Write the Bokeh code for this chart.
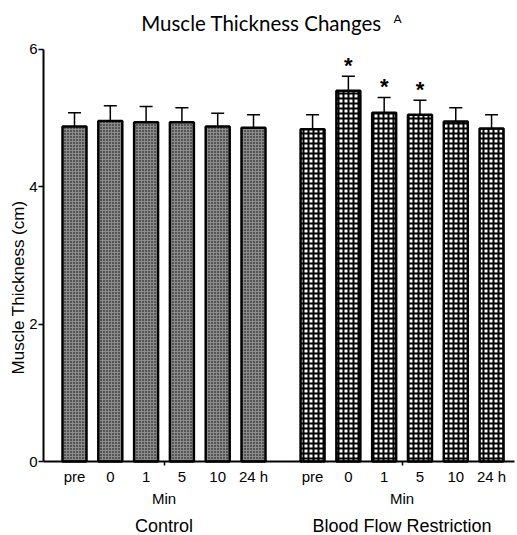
import math
from bokeh.plotting import figure
from bokeh.models import Range1d, FixedTicker, ColumnDataSource, Whisker, TeeHead
from bokeh.core.properties import value
from bokeh.embed import file_html
from bokeh.resources import INLINE

# ---- data ----
timepoints = ["pre", "0", "1", "5", "10", "24 h"]
groups = ["Control", "Blood Flow Restriction"]
control_mean = [4.88, 4.96, 4.94, 4.94, 4.88, 4.86]
control_err = [0.20, 0.22, 0.23, 0.21, 0.19, 0.19]
bfr_mean = [4.84, 5.40, 5.08, 5.05, 4.95, 4.85]
bfr_err = [0.21, 0.21, 0.22, 0.21, 0.20, 0.20]
bfr_sig = [False, True, True, True, False, False]
y_ticks = [0, 2, 4, 6]
y_label = "Muscle Thickness (cm)"
title_text = "Muscle Thickness Changes"
title_sup = "A"
min_label = "Min"

# ---- layout params ----
group_offset = 6.65
bar_w = 0.67
px = 1 / 68.67          # data units per pixel (y)
pxx = 1 / 35.8          # data units per pixel (x)
x_axis_pos = -0.866
xs_c = [i for i in range(len(timepoints))]
xs_b = [i + group_offset for i in range(len(timepoints))]
ARIAL = '"Liberation Sans", Arial, sans-serif'
TITLE_FONT = "Lato"

p = figure(width=517, height=535, output_backend="svg", toolbar_location=None,
           x_range=Range1d(-74 * pxx, 443 * pxx), y_range=Range1d(-74 * px, 6 + 49 * px),
           min_border=0, x_axis_location="below", y_axis_location="left")
p.outline_line_color = None
p.xgrid.visible = False
p.ygrid.visible = False
p.background_fill_color = "white"

# y axis
yax = p.yaxis[0]
yax.fixed_location = x_axis_pos
yax.bounds = (0, 6)
yax.ticker = FixedTicker(ticks=y_ticks)
yax.axis_line_width = 2
yax.major_tick_line_width = 1.5
yax.major_tick_out = 5
yax.major_tick_in = 0
yax.minor_tick_line_color = None
yax.major_label_standoff = 1
yax.major_label_text_font = ARIAL
yax.major_label_text_font_size = "15px"
yax.major_label_text_color = "black"

# x axis: only divider ticks
xax = p.xaxis[0]
xax.fixed_location = 0
xax.bounds = (x_axis_pos, 12.3)
dividers = [2.5, 2.5 + group_offset]
xax.ticker = FixedTicker(ticks=dividers)
xax.major_label_overrides = {d: "" for d in dividers}
xax.major_label_text_font_size = "1px"
xax.axis_line_width = 2
xax.major_tick_line_width = 1.5
xax.major_tick_out = 4
xax.major_tick_in = 0
xax.minor_tick_line_color = None

# bars
src_c = ColumnDataSource(dict(x=xs_c, top=control_mean,
                              up=[m + e for m, e in zip(control_mean, control_err)]))
src_b = ColumnDataSource(dict(x=xs_b, top=bfr_mean,
                              up=[m + e for m, e in zip(bfr_mean, bfr_err)]))
for src in (src_c, src_b):
    p.add_layout(Whisker(source=src, base="x", lower="top", upper="up", dimension="height",
                         line_width=1.5, line_color="black", lower_head=None,
                         upper_head=TeeHead(size=13, line_width=1.5, line_color="black"),
                         level="underlay"))

p.vbar(x="x", top="top", bottom=0, width=bar_w, source=src_c,
       fill_color="#8c8c8c", line_color="black", line_width=2.5,
       hatch_pattern="dot", hatch_color="black", hatch_scale=3, hatch_weight=1)
p.vbar(x="x", top="top", bottom=0, width=bar_w, source=src_b,
       fill_color="white", line_color="black", line_width=2.5,
       hatch_pattern="cross", hatch_color="black", hatch_scale=5, hatch_weight=2)

# asterisks
sig_x = [x for x, s in zip(xs_b, bfr_sig) if s]
sig_y = [m + e + 11 * px for m, e, s in zip(bfr_mean, bfr_err, bfr_sig) if s]
p.text(x=sig_x, y=sig_y, text=["*"] * len(sig_x), text_align="center", text_baseline="middle",
       text_font=value(ARIAL), text_font_size="22px", text_font_style="bold", text_color="black")

# category labels below the axis
all_x = xs_c + xs_b
p.text(x=all_x, y=[-15 * px] * len(all_x), text=timepoints * 2, text_align="center",
       text_baseline="middle", text_font=value(ARIAL), text_font_size="15px", text_color="black")
p.text(x=dividers, y=[-37 * px] * 2, text=[min_label] * 2, text_align="center",
       text_baseline="middle", text_font=value(ARIAL), text_font_size="15px", text_color="black")
p.text(x=dividers, y=[-64 * px] * 2, text=groups, text_align="center",
       text_baseline="middle", text_font=value(ARIAL), text_font_size="18px", text_color="black")

# y axis label
p.text(x=[x_axis_pos - 25 * pxx], y=[174 * px], text=[y_label], angle=math.pi / 2,
       text_align="center", text_baseline="middle", text_font=value(ARIAL),
       text_font_size="17px", text_color="black")

# title
p.text(x=[x_axis_pos + 218 * pxx], y=[6 + 26 * px], text=[title_text], text_align="center",
       text_baseline="middle", text_font=value(TITLE_FONT), text_font_size="20.5px", text_color="black")
p.text(x=[x_axis_pos + 354 * pxx], y=[6 + 31 * px], text=[title_sup], text_align="center",
       text_baseline="middle", text_font=value(TITLE_FONT), text_font_size="12px", text_color="black")

open("out.html", "w").write(file_html(p, INLINE))
